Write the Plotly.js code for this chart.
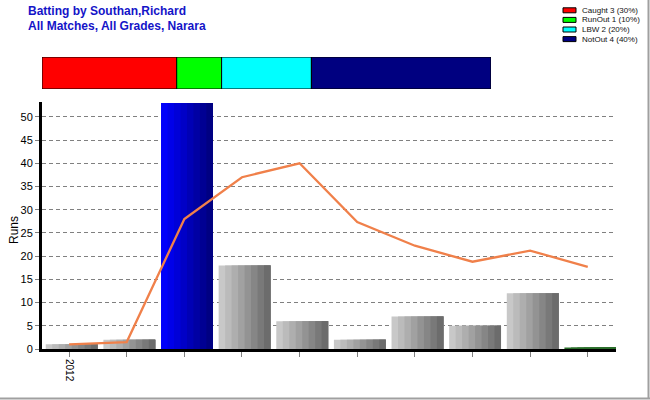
<!DOCTYPE html>
<html><head><meta charset="utf-8">
<script src="https://cdn.plot.ly/plotly-3.0.1.min.js"></script>
<style>html,body{margin:0;padding:0;background:#fff}#chart{width:650px;height:400px}</style>
</head><body><div id="chart"></div>
<script>
// ---- data ----
const tickLabels = ['2012','','','','','','','','',''];
const innings = [0,1,2,3,4,5,6,7,8,9];
const runs = [1, 2, 53, 18, 6, 2, 7, 5, 12, 0.3];
const barKind = ['gray','gray','blue','gray','gray','gray','gray','gray','gray','green'];
const runningAvg = [1, 1.5, 28, 37, 40, 27.33, 22.25, 18.8, 21.2, 17.67];
const dismissals = ['Caught','RunOut','LBW','NotOut'];
const dismissalCounts = [3, 1, 2, 4];
const dismissalColors = ['#ff0000','#00ff00','#00ffff','#000080'];
const titleLines = ['Batting by Southan,Richard','All Matches, All Grades, Narara'];
const yTitle = 'Runs';

// ---- styling helpers ----
const NS = 8;
function lerp(a,b,t){return Math.round(a+(b-a)*t);}
function stripeColor(kind,k){
  const t=k/(NS-1);
  if(kind==='blue'){return 'rgb(0,0,'+lerp(250,130,t)+')';}
  if(kind==='green'){return '#2a6e2a';}
  const g=lerp(200,108,t);return 'rgb('+g+','+g+','+g+')';
}
const BW=0.9, shift=0.045;
const traces=[];
for(let k=0;k<NS;k++){
  // each stripe runs to the bar's right edge; later stripes cover earlier ones (no seams)
  traces.push({type:'bar',x:innings,y:runs,width:BW-k*BW/NS,offset:-BW/2+shift+k*BW/NS,
    marker:{color:barKind.map(c=>stripeColor(c,k)),line:{width:0}},
    showlegend:false,hoverinfo:'skip',xaxis:'x',yaxis:'y'});
}
traces.push({type:'scatter',mode:'lines',x:innings,y:runningAvg,
  line:{color:'#f0804a',width:2.3},showlegend:false,xaxis:'x',yaxis:'y'});

const total=dismissalCounts.reduce((a,b)=>a+b,0);
let cum=0;
dismissals.forEach((d,i)=>{
  traces.push({type:'bar',orientation:'h',y:[0],x:[dismissalCounts[i]],base:[cum],width:[1],
    marker:{color:dismissalColors[i],line:{color:'#000',width:1}},
    showlegend:false,xaxis:'x2',yaxis:'y2',hoverinfo:'skip'});
  cum+=dismissalCounts[i];
});

// legend drawn as shapes + annotations (pixel -> paper)
const L=42,R=34,T=50,B=51,W=650,H=400;
const pw=W-L-R, ph=H-T-B;
const px=x=>(x-L)/pw, py=y=>(H-B-y)/ph;
const shapes=[], annotations=[];
dismissals.forEach((d,i)=>{
  const cy=10.3+i*9.6;
  shapes.push({type:'rect',xref:'paper',yref:'paper',x0:px(563),x1:px(576),y0:py(cy-2.5),y1:py(cy+2.5),
    fillcolor:dismissalColors[i],line:{color:'#000',width:1}});
  const pct=Math.round(dismissalCounts[i]/total*100);
  annotations.push({xref:'paper',yref:'paper',x:px(580),y:py(cy),xanchor:'left',yanchor:'middle',
    text:d+' '+dismissalCounts[i]+' ('+pct+'%)',showarrow:false,
    font:{family:'Arial, Liberation Sans',size:8,color:'#111'}});
});
titleLines.forEach((t,i)=>{
  annotations.push({xref:'paper',yref:'paper',x:px(26),y:py(11+i*15.5),xanchor:'left',yanchor:'middle',
    text:t,showarrow:false,font:{family:'Arial, Liberation Sans',size:12,color:'#1414c8',weight:'bold'}});
});
annotations.push({xref:'paper',yref:'paper',x:px(14),y:py(230),xanchor:'center',yanchor:'middle',
  textangle:-90,text:yTitle,showarrow:false,font:{family:'Arial, Liberation Sans',size:12,color:'#000'}});
// frame shadow lines right/bottom
shapes.push({type:'line',xref:'paper',yref:'paper',x0:px(648.5),x1:px(648.5),y0:py(0),y1:py(399),line:{color:'#a0a0a0',width:2}});
shapes.push({type:'line',xref:'paper',yref:'paper',x0:px(0),x1:px(650),y0:py(398.5),y1:py(398.5),line:{color:'#a0a0a0',width:2}});

const layout={
  width:W,height:H,margin:{l:L,r:R,t:T,b:B},
  paper_bgcolor:'#fff',plot_bgcolor:'#fff',
  barmode:'overlay',showlegend:false,
  font:{family:'Arial, Liberation Sans',color:'#000'},
  xaxis:{domain:[0,1],range:[-0.47,9.49],tickmode:'array',tickvals:innings,ticktext:tickLabels,
    tickangle:90,tickfont:{size:10},ticks:'outside',ticklen:5,tickcolor:'#808080',
    showline:true,linecolor:'#000',linewidth:3,showgrid:false,zeroline:false,fixedrange:true},
  yaxis:{domain:[0,(H-B-102)/ph],range:[0,53.2],dtick:5,tick0:0,tickfont:{size:11},
    ticks:'outside',ticklen:4,tickcolor:'#808080',showline:true,linecolor:'#000',linewidth:3,
    showgrid:true,gridcolor:'#808080',griddash:'4px,3px',gridwidth:1,zeroline:false},
  xaxis2:{domain:[0,(491-L)/pw],range:[0,total],anchor:'y2',visible:false,fixedrange:true},
  yaxis2:{domain:[py(89),py(57)],range:[-0.5,0.5],anchor:'x2',visible:false,fixedrange:true},
  shapes:shapes,annotations:annotations
};
Plotly.newPlot('chart',traces,layout,{displayModeBar:false,staticPlot:true});
</script></body></html>
